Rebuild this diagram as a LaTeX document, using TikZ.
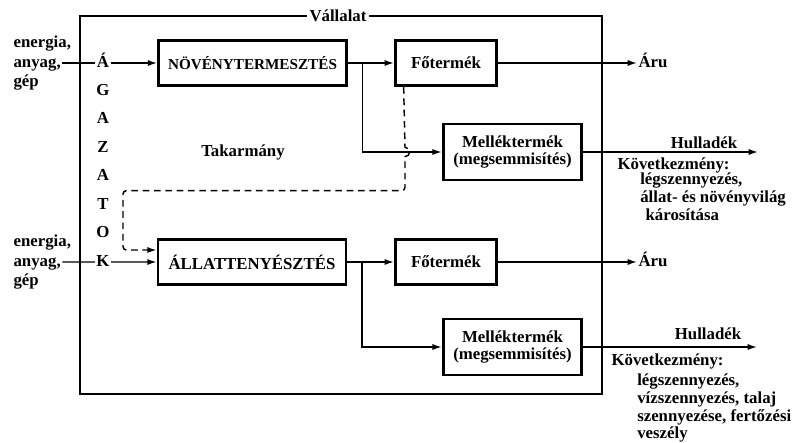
\documentclass[tikz,border=0pt]{standalone}
\usepackage{fontspec}
\setmainfont{Liberation Serif}
\usetikzlibrary{arrows.meta, positioning}

\tikzset{
  bigbox/.style={draw, line width=2.1pt, minimum width=141pt, minimum height=34pt, inner sep=1pt},
  mainbox/.style={bigbox, minimum width=76pt},
  sidebox/.style={bigbox, minimum width=104pt, minimum height=42pt, align=center},
  lbl/.style={inner sep=1pt, text height=8.5pt, text depth=2.5pt},
  conn/.style={line width=1.1pt},
  feed/.style={conn, dash pattern=on 5pt off 3.5pt}
}

\begin{document}
\begin{tikzpicture}[x=0.75pt, y=-0.75pt, >={Latex[length=7pt, width=4.6pt]},
  font=\fontsize{12.6}{13.2}\selectfont\bfseries]

\useasboundingbox (0,0) rectangle (794,443);

% enterprise frame
\draw[conn] (80,16) rectangle (602,394);
\node[fill=white, inner sep=2pt] (vallalat) at (338,16) {Vállalat};

% sectors, letter by letter
\foreach \c [count=\i] in {Á,G,A,Z,A,T,O,K}
  \node[lbl] (ag\i) at (103, {63+(\i-1)*28.43}) {\c};

% inputs
\node[lbl, anchor=west] (in1) at (12,63) {anyag,};
\node[lbl, above=0.9pt of in1.north west, anchor=south west] (en1) {energia,};
\node[lbl, below=0.9pt of in1.south west, anchor=north west] (gep1) {gép};
\node[lbl, anchor=west] (in2) at (12,262) {anyag,};
\node[lbl, above=0.9pt of in2.north west, anchor=south west] (en2) {energia,};
\node[lbl, below=0.9pt of in2.south west, anchor=north west] (gep2) {gép};

% production boxes
\node[bigbox, font=\fontsize{11.4}{13}\selectfont\bfseries] (nov) at (252.5,63) {NÖVÉNYTERMESZTÉS};
\node[mainbox] (fo1) at (446,63) {Főtermék};
\node[sidebox] (mel1) at (512.5,152) {Melléktermék\\(megsemmisítés)};
\node[bigbox] (all) at (252,262) {ÁLLATTENYÉSZTÉS};
\node[mainbox] (fo2) at (446,262) {Főtermék};
\node[sidebox] (mel2) at (512.5,347) {Melléktermék\\(megsemmisítés)};

\node (tak) at (243,152) {Takarmány};

% outputs
\node[lbl, anchor=west] (aru1) at (637,63) {Áru};
\coordinate (hul1) at (758,152);
\node[lbl] (hlab1) at (704,144) {Hulladék};
\node[lbl, anchor=west] (kov1) at (616,165) {Következmény:};
\node[anchor=north west, align=left, inner sep=0pt] (kar1) at (640,173) {légszennyezés,\\állat- és növényvilág\\\hspace*{4pt}károsítása};

\node[lbl, anchor=west] (aru2) at (637,262) {Áru};
\coordinate (hul2) at (757,347);
\node[lbl] (hlab2) at (708,335) {Hulladék};
\node[lbl, anchor=west] (kov2) at (610,361) {Következmény:};
\node[anchor=north west, align=left, inner sep=0pt] (kar2) at (637,374) {légszennyezés,\\vízszennyezés, talaj\\szennyezése, fertőzési\\veszély};

% flows
\draw[conn] (in1) -- (ag1);
\draw[conn, ->] (ag1) -- (nov);
\draw[conn, ->] (nov) -- (fo1);
\draw[conn, ->] ([xshift=11pt]nov.east) |- (mel1);
\draw[conn, ->] (fo1) -- (aru1);
\draw[conn, ->] (mel1) -- (hul1);

\draw[conn] (in2) -- (ag8);
\draw[conn, ->] (ag8) -- (all);
\draw[conn, ->] (all) -- (fo2);
\draw[conn, ->] ([xshift=11pt]all.east) |- (mel2);
\draw[conn, ->] (fo2) -- (aru2);
\draw[conn, ->] (mel2) -- (hul2);

% fodder
\draw[feed, ->] ([xshift=7.3pt]fo1.south west) -- (405,147.3)
  arc[start angle=90, end angle=-90, radius=3.5pt]
  [rounded corners=2.5pt] -- ++(0,34) -| (123,250) -- ([yshift=9pt]all.west);

\end{tikzpicture}
\end{document}
